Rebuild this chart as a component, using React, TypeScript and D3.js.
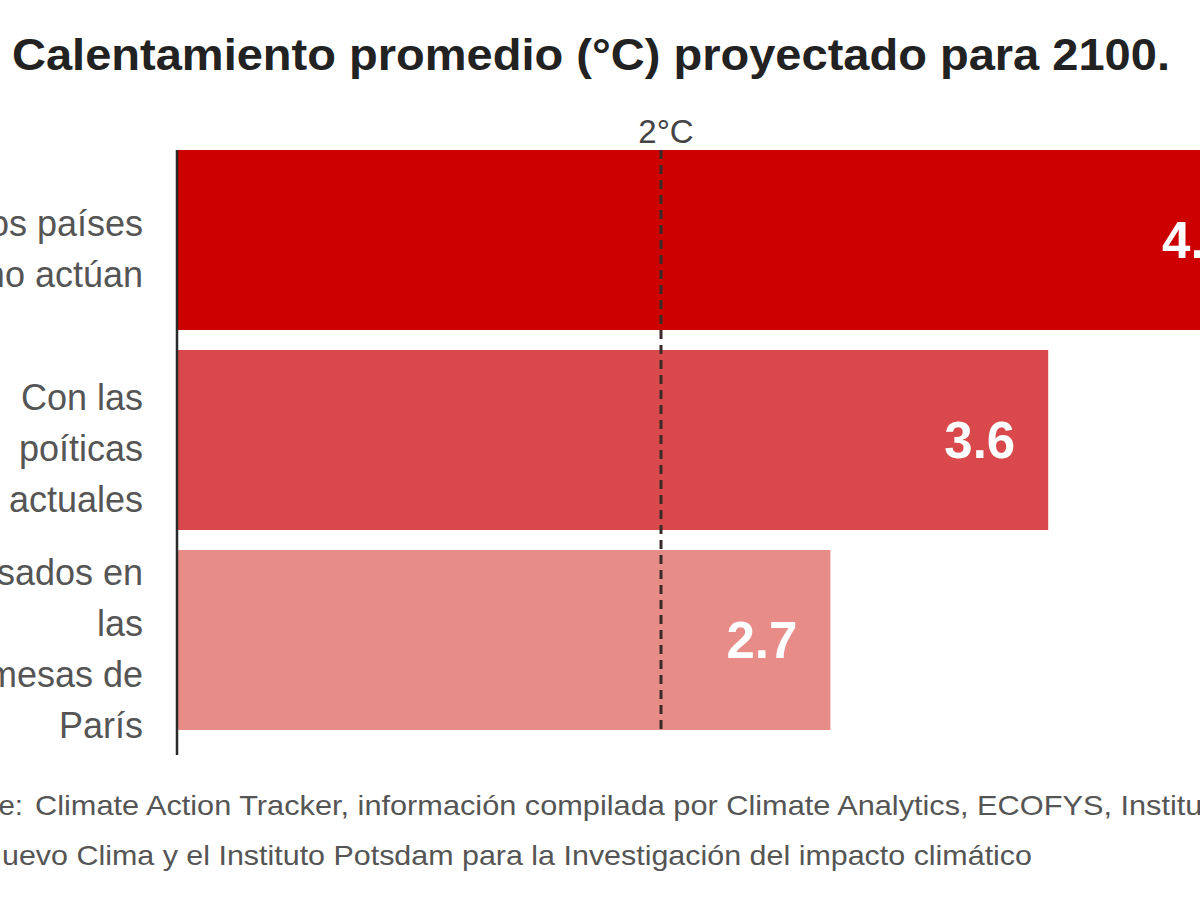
import React from "react";
import * as d3 from "d3";

const title = "Calentamiento promedio (°C) proyectado para 2100.";
const categories = ["no-actuan", "politicas", "promesas"];
const categoryLines = [
  ["Si los países", "no actúan"],
  ["Con las", "poíticas", "actuales"],
  ["Basados en", "las", "promesas de", "París"],
];
const values = [4.5, 3.6, 2.7];
const valueLabels = ["4.5", "3.6", "2.7"];
const barColors = ["#cc0000", "#d9484a", "#e88c88"];
const threshold = 2;
const thresholdLabel = "2°C";
const sourcePrefix = "Fuente:";
const sourceLine1 = "Climate Action Tracker, información compilada por Climate Analytics, ECOFYS, Instituto";
const sourceLine2 = "Nuevo Clima y el Instituto Potsdam para la Investigación del impacto climático";

const W = 1200;
const H = 900;

export default function App() {
  const x = d3.scaleLinear().domain([0, 2]).range([177, 661]);
  const y = d3
    .scaleBand<string>()
    .domain(categories)
    .range([150, 730])
    .paddingInner(0.1)
    .paddingOuter(0);
  const font = "'Liberation Sans', Arial, sans-serif";
  const lineH = 51;

  return (
    <svg
      width={W}
      height={H}
      style={{ position: "absolute", left: 0, top: 0, background: "#fff" }}
      fontFamily={font}
    >
      <rect x={0} y={0} width={W} height={H} fill="#fff" />
      <text
        x={12}
        y={70}
        fontSize={44}
        fontWeight="bold"
        fill="#222"
        textLength={1158}
        lengthAdjust="spacingAndGlyphs"
      >
        {title}
      </text>

      {categories.map((c, i) => (
        <rect
          key={c}
          x={x(0)}
          y={y(c)!}
          width={x(values[i]) - x(0)}
          height={y.bandwidth()}
          fill={barColors[i]}
        />
      ))}

      {categories.map((c, i) => {
        const cy = y(c)! + y.bandwidth() / 2;
        const lines = categoryLines[i];
        return (
          <text key={c} textAnchor="end" fontSize={36} fill="#555">
            {lines.map((l, j) => (
              <tspan key={j} x={143} y={cy + (j - (lines.length - 1) / 2) * lineH + 21}>
                {l}
              </tspan>
            ))}
          </text>
        );
      })}

      {categories.map((c, i) => (
        <text
          key={c}
          x={x(values[i]) - 33}
          y={y(c)! + y.bandwidth() / 2 + 18}
          textAnchor="end"
          fontSize={51}
          fontWeight="bold"
          fill="#fff"
        >
          {valueLabels[i]}
        </text>
      ))}

      <line
        x1={x(threshold)}
        x2={x(threshold)}
        y1={150}
        y2={732}
        stroke="#3a2a2a"
        strokeWidth={3}
        strokeDasharray="9 6"
      />
      <text x={x(threshold) + 5} y={143} textAnchor="middle" fontSize={33} fill="#444">
        {thresholdLabel}
      </text>

      <line x1={x(0)} x2={x(0)} y1={150} y2={755} stroke="#2a2a2a" strokeWidth={2.5} />

      <text
        x={23}
        y={815}
        textAnchor="end"
        fontSize={28}
        fill="#555"
        textLength={100}
        lengthAdjust="spacingAndGlyphs"
      >
        {sourcePrefix}
      </text>
      <text
        x={35}
        y={815}
        fontSize={28}
        fill="#555"
        textLength={1193}
        lengthAdjust="spacingAndGlyphs"
      >
        {sourceLine1}
      </text>
      <text
        x={-20}
        y={865}
        fontSize={28}
        fill="#555"
        textLength={1052}
        lengthAdjust="spacingAndGlyphs"
      >
        {sourceLine2}
      </text>
    </svg>
  );
}
